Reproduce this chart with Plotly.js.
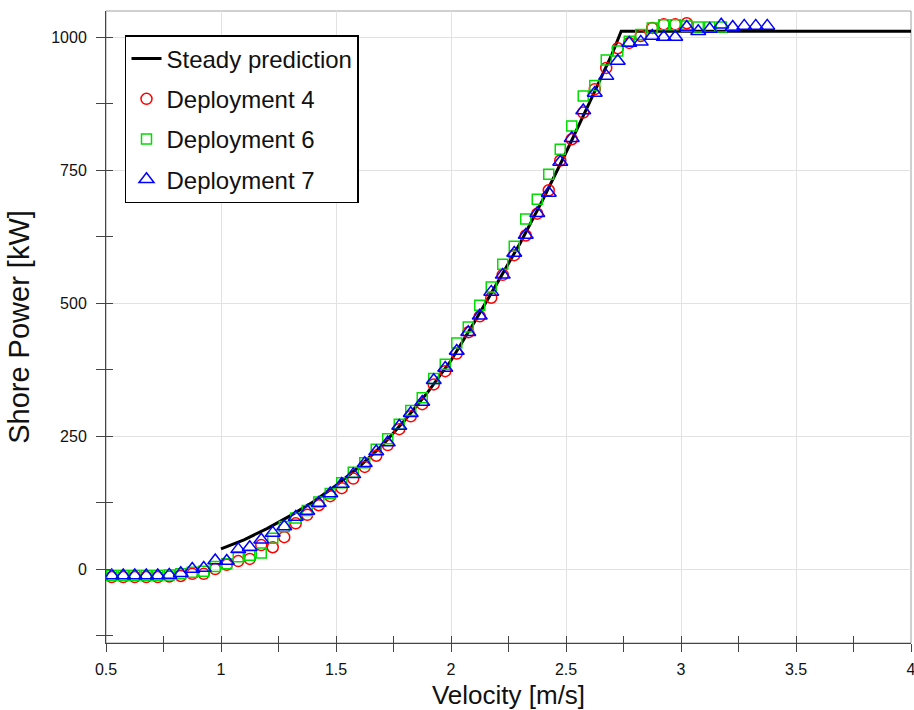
<!DOCTYPE html>
<html>
<head>
<meta charset="utf-8">
<script src="https://cdn.plot.ly/plotly-3.0.1.min.js"></script>
<style>html,body{margin:0;padding:0;background:#fff;}#chart{width:914px;height:710px;}</style>
</head>
<body>
<div id="chart"></div>
<script>
// Steady prediction curve
const steadyV = [1.0, 1.1, 1.2, 1.3, 1.4, 1.5, 1.6, 1.7, 1.8, 1.9, 2.0, 2.1, 2.2, 2.3, 2.4, 2.5, 2.6, 2.7, 2.74, 4.0];
const steadyP = [38, 55, 76, 100, 126, 157, 192, 232, 280, 333, 392, 463, 537, 612, 695, 783, 875, 968, 1011, 1011];

// Velocity bins (m/s)
const velocity = [0.525,0.575,0.625,0.675,0.725,0.775,0.825,0.875,0.925,0.975,
  1.025,1.075,1.125,1.175,1.225,1.275,1.325,1.375,1.425,1.475,
  1.525,1.575,1.625,1.675,1.725,1.775,1.825,1.875,1.925,1.975,
  2.025,2.075,2.125,2.175,2.225,2.275,2.325,2.375,2.425,2.475,
  2.525,2.575,2.625,2.675,2.725,2.775,2.825,2.875,2.925,2.975,
  3.025,3.075,3.125,3.175,3.225,3.275,3.325,3.375];

const dep4P = [-15,-15,-15,-15,-15,-14,-13,-9,-9,0,
  8,15,19,45,41,60,86,102,120,137,
  152,170,192,213,233,263,287,310,347,372,
  405,445,475,510,553,590,627,668,712,768,
  808,858,902,942,979,989,1002,1017,1024,1024,
  1026];

const dep6P = [-12,-12,-12,-12,-12,-11,-9,-6,-4,5,
  10,23,26,30,58,80,96,110,126,142,
  162,182,200,225,245,272,298,322,358,385,
  425,455,496,530,573,607,658,695,742,789,
  833,889,909,957,974,992,1005,1017,1023,1023,
  1021,1019,1019,1019];

const dep7P = [-12,-12,-12,-12,-12,-11,-8,0,2,16,
  15,37,41,55,68,80,98,109,124,142,
  160,178,199,221,238,269,293,314,355,378,
  410,445,476,521,553,594,628,669,707,765,
  810,862,895,927,955,989,991,1002,1000,1000,
  1019,1011,1015,1023,1019,1021,1021,1021];

const xTicks = [0.5, 1, 1.5, 2, 2.5, 3, 3.5, 4];
const xTickText = ['0.5', '1', '1.5', '2', '2.5', '3', '3.5', '4'];
const yTicks = [0, 250, 500, 750, 1000];
const yMinorTicks = [-125, 125, 375, 625, 875];
const xRange = [0.5, 4];
const yRange = [-139, 1049];

const traces = [
  {x: steadyV, y: steadyP, mode: 'lines', name: 'Steady prediction',
   line: {color: '#000', width: 3}, legendgroup: 'a'},
  {x: velocity.slice(0, dep4P.length), y: dep4P, mode: 'markers', name: 'Deployment 4',
   marker: {symbol: 'circle-open', size: 11, color: '#ff0000', line: {width: 1.5}}, legendgroup: 'b'},
  {x: velocity.slice(0, dep6P.length), y: dep6P, mode: 'markers', name: 'Deployment 6',
   marker: {symbol: 'square-open', size: 10, color: '#00dd00', line: {width: 1.5}}, legendgroup: 'c'},
  {x: velocity.slice(0, dep7P.length), y: dep7P, mode: 'markers', name: 'Deployment 7',
   marker: {symbol: 'triangle-up-open', size: 13, color: '#0000ff', line: {width: 1.5}}, legendgroup: 'd'},
  // invisible carrier so the overlaid tick-only axes get drawn
  {x: steadyV, y: steadyP, mode: 'none', xaxis: 'x2', yaxis: 'y2', showlegend: false, hoverinfo: 'skip'}
];

const ff = 'Liberation Sans, Arial, sans-serif';

const layout = {
  width: 914, height: 710,
  margin: {l: 106, r: 3, t: 11, b: 67},
  paper_bgcolor: '#fff', plot_bgcolor: '#fff',
  font: {family: ff, color: '#111'},
  showlegend: true,
  legend: {
    x: 0.0236, y: 0.962, xanchor: 'left', yanchor: 'top',
    bordercolor: '#000', borderwidth: 1.5, bgcolor: '#fff',
    font: {family: ff, size: 24, color: '#111'},
    traceorder: 'grouped', tracegroupgap: 6
  },
  xaxis: {
    range: xRange, tickvals: xTicks, ticktext: xTickText,
    ticks: 'outside', ticklen: 8, tickwidth: 1, tickcolor: '#444',
    minor: {dtick: 0.25, tick0: 0.5, ticks: 'outside', ticklen: 8, tickcolor: '#444', showgrid: false},
    showline: true, linecolor: '#444', linewidth: 1,
    showgrid: true, gridcolor: '#e2e2e2', gridwidth: 1, zeroline: false,
    tickfont: {family: ff, size: 16, color: '#111'},
    ticklabelstandoff: 4, ticklabeloverflow: 'allow',
    title: {text: 'Velocity [m/s]', font: {family: ff, size: 26, color: '#111'}, standoff: 8}
  },
  yaxis: {
    range: yRange, tickvals: yTicks,
    ticks: 'outside', ticklen: 9, tickwidth: 1, tickcolor: '#444',
    minor: {tickvals: yMinorTicks, ticks: 'outside', ticklen: 9, tickcolor: '#444', showgrid: false},
    showline: true, linecolor: '#444', linewidth: 1,
    showgrid: true, gridcolor: '#e2e2e2', gridwidth: 1, zeroline: false,
    tickfont: {family: ff, size: 16, color: '#111'},
    ticklabelstandoff: 6,
    title: {text: 'Shore Power [kW]', font: {family: ff, size: 29, color: '#111'}, standoff: 13}
  },
  xaxis2: {
    overlaying: 'x', anchor: 'y2', range: xRange, tickvals: xTicks,
    ticks: 'inside', ticklen: 7, tickcolor: '#444', showticklabels: false,
    minor: {dtick: 0.25, tick0: 0.5, ticks: 'inside', ticklen: 7, tickcolor: '#444', showgrid: false},
    showgrid: false, zeroline: false, showline: false
  },
  yaxis2: {
    overlaying: 'y', anchor: 'x2', range: yRange, tickvals: yTicks,
    ticks: 'inside', ticklen: 7, tickcolor: '#444', showticklabels: false,
    minor: {tickvals: yMinorTicks, ticks: 'inside', ticklen: 7, tickcolor: '#444', showgrid: false},
    showgrid: false, zeroline: false, showline: false
  },
  shapes: [
    {type: 'rect', xref: 'paper', yref: 'paper', x0: 0, x1: 1, y0: 0, y1: 1,
     line: {color: '#a0a0a0', width: 1}, layer: 'below'}
  ]
};

Plotly.newPlot('chart', traces, layout, {displayModeBar: false, staticPlot: true});
</script>
</body>
</html>
